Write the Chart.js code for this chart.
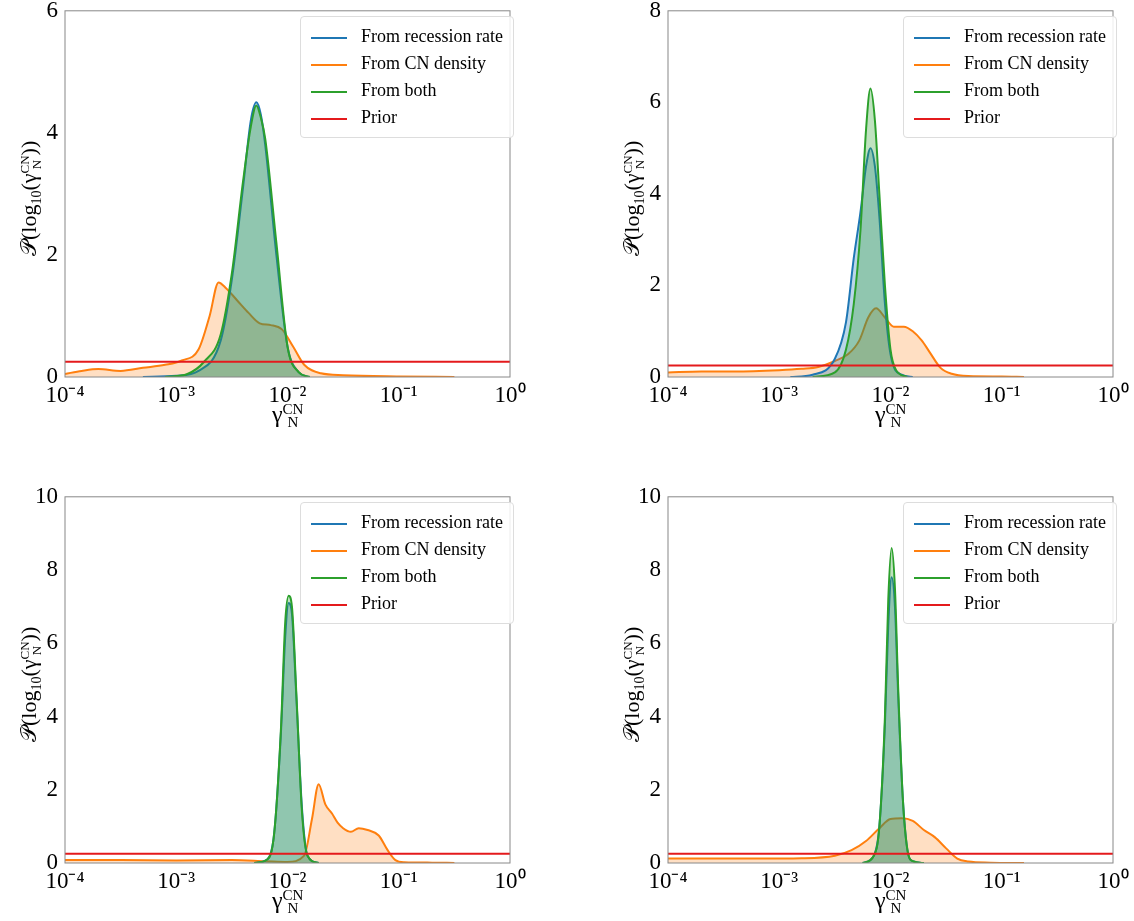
<!DOCTYPE html>
<html><head><meta charset="utf-8">
<script src="https://cdn.jsdelivr.net/npm/chart.js@4"></script>
<style>
body{margin:0;width:1134px;height:921px;background:#fff;position:relative;font-family:"Liberation Serif","DejaVu Serif",serif;overflow:hidden;}
.p{position:absolute;width:560px;height:445px;}
.p canvas{position:absolute;left:0;top:0;}
.xt{position:absolute;font-size:24px;color:#000;white-space:nowrap;}
.yt{position:absolute;font-size:22px;transform:rotate(-90deg);transform-origin:left top;white-space:nowrap;}
.lg{position:absolute;border:1px solid #ddd;border-radius:4px;background:rgba(255,255,255,0.85);padding:6px 10px;font-size:18px;}
.lg div{height:27px;line-height:27px;}
.lg span{display:inline-block;width:36px;height:0;border-top:2px solid;vertical-align:middle;margin-right:14px;}
</style></head><body>
<script>
const xTicks=[-4,-3,-2,-1,0];
const legendLabels=["From recession rate","From CN density","From both","Prior"];
const priorLevel=0.25;
const yMax=[6,8,10,10];
const p1RecX=[-3.3,-3.0,-2.8,-2.6,-2.5,-2.4,-2.33,-2.28,-2.24,-2.2,-2.1,-2.0,-1.9,-1.8];
const p1RecY=[0,0.02,0.1,0.6,1.6,3.1,4.2,4.5,4.3,3.8,2.0,0.5,0.08,0];
const p1BothX=[-3.1,-2.9,-2.75,-2.6,-2.5,-2.4,-2.33,-2.28,-2.24,-2.2,-2.1,-2.0,-1.9,-1.8];
const p1BothY=[0,0.05,0.25,0.7,1.7,3.2,4.1,4.45,4.25,3.9,2.2,0.5,0.08,0];
const p1CnX=[-4,-3.85,-3.7,-3.5,-3.3,-3.1,-2.95,-2.8,-2.7,-2.62,-2.55,-2.45,-2.35,-2.25,-2.15,-2.05,-1.95,-1.85,-1.7,-1.5,-1.0,-0.5];
const p1CnY=[0.05,0.1,0.13,0.1,0.15,0.2,0.27,0.45,1.0,1.55,1.45,1.25,1.05,0.88,0.85,0.78,0.5,0.2,0.06,0.03,0.01,0];
const p2RecX=[-2.9,-2.7,-2.5,-2.4,-2.33,-2.27,-2.22,-2.18,-2.14,-2.1,-2.05,-2.0,-1.9,-1.8];
const p2RecY=[0,0.05,0.4,1.2,2.6,3.6,4.6,5.0,4.6,3.5,1.6,0.5,0.05,0];
const p2BothX=[-2.7,-2.5,-2.4,-2.33,-2.27,-2.22,-2.18,-2.14,-2.1,-2.05,-2.0,-1.95,-1.85];
const p2BothY=[0,0.1,0.6,1.6,3.2,5.4,6.3,5.6,4.0,2.0,0.6,0.15,0];
const p2CnX=[-4,-3.7,-3.4,-3.0,-2.8,-2.65,-2.5,-2.38,-2.28,-2.2,-2.13,-2.05,-1.97,-1.88,-1.8,-1.72,-1.65,-1.55,-1.45,-1.3,-1.0,-0.8];
const p2CnY=[0.1,0.12,0.12,0.15,0.18,0.22,0.35,0.5,0.8,1.3,1.5,1.3,1.1,1.1,1.0,0.8,0.55,0.2,0.07,0.02,0.01,0];
const p3RecX=[-2.3,-2.18,-2.12,-2.06,-2.02,-1.99,-1.96,-1.92,-1.87,-1.82,-1.72];
const p3RecY=[0,0.1,0.8,3.5,6.2,7.1,6.8,4.5,1.5,0.2,0];
const p3BothX=[-2.3,-2.18,-2.12,-2.06,-2.02,-1.99,-1.96,-1.92,-1.87,-1.82,-1.72];
const p3BothY=[0,0.1,0.8,3.6,6.6,7.3,7.0,4.6,1.4,0.2,0];
const p3CnX=[-4,-3.5,-3.0,-2.5,-2.2,-2.0,-1.85,-1.78,-1.72,-1.66,-1.6,-1.55,-1.5,-1.43,-1.36,-1.28,-1.18,-1.1,-1.03,-0.95,-0.7,-0.5];
const p3CnY=[0.08,0.08,0.07,0.08,0.05,0.03,0.2,1.2,2.15,1.6,1.35,1.1,0.95,0.85,0.95,0.9,0.75,0.35,0.08,0.02,0.01,0];
const p4RecX=[-2.25,-2.15,-2.1,-2.05,-2.02,-1.99,-1.96,-1.93,-1.89,-1.85,-1.8,-1.7];
const p4RecY=[0,0.2,1.0,3.8,6.5,7.8,7.0,4.5,1.8,0.4,0.05,0];
const p4BothX=[-2.25,-2.15,-2.1,-2.05,-2.02,-1.99,-1.96,-1.93,-1.89,-1.85,-1.8,-1.7];
const p4BothY=[0,0.2,1.0,4.0,7.2,8.6,7.5,4.7,1.8,0.4,0.05,0];
const p4CnX=[-4,-3.6,-3.2,-2.8,-2.5,-2.35,-2.22,-2.1,-2.0,-1.9,-1.8,-1.7,-1.6,-1.5,-1.4,-1.3,-1.1,-0.8];
const p4CnY=[0.12,0.12,0.12,0.13,0.2,0.35,0.6,0.95,1.2,1.22,1.15,0.9,0.7,0.4,0.12,0.04,0.01,0];

const panels=[
 {left:0,top:0,rx:p1RecX,ry:p1RecY,bx:p1BothX,by:p1BothY,cx:p1CnX,cy:p1CnY},
 {left:603,top:0,rx:p2RecX,ry:p2RecY,bx:p2BothX,by:p2BothY,cx:p2CnX,cy:p2CnY},
 {left:0,top:486,rx:p3RecX,ry:p3RecY,bx:p3BothX,by:p3BothY,cx:p3CnX,cy:p3CnY},
 {left:603,top:486,rx:p4RecX,ry:p4RecY,bx:p4BothX,by:p4BothY,cx:p4CnX,cy:p4CnY}
];
const sup={"-":"⁻","0":"⁰","1":"¹","2":"²","3":"³","4":"⁴"};
function pts(xs,ys){return xs.map((v,i)=>({x:Math.pow(10,v),y:ys[i]}));}
const boxPlugin={id:'box',afterDraw(c){const a=c.chartArea,g=c.ctx;g.save();g.strokeStyle='#888';g.lineWidth=1;g.strokeRect(a.left,a.top,a.right-a.left,a.bottom-a.top);g.restore();}};
const colors=['#1f77b4','#ff7f0e','#2ca02c','#e41a1c'];
panels.forEach((p,k)=>{
 const d=document.createElement('div');d.className='p';d.style.left=p.left+'px';d.style.top=(p.top-5)+'px';
 const cv=document.createElement('canvas');cv.width=560;cv.height=445;cv.style.width='560px';cv.style.height='445px';d.appendChild(cv);
 document.body.appendChild(d);
 const ds=[
  {data:pts(p.cx,p.cy),borderColor:colors[1],backgroundColor:'rgba(255,127,14,0.25)',fill:'origin',order:3},
  {data:pts(p.rx,p.ry),borderColor:colors[0],backgroundColor:'rgba(31,119,180,0.3)',fill:'origin',order:2},
  {data:pts(p.bx,p.by),borderColor:colors[2],backgroundColor:'rgba(44,160,44,0.3)',fill:'origin',order:1},
  {data:[{x:1e-4,y:priorLevel},{x:1,y:priorLevel}],borderColor:colors[3],fill:false,order:0}
 ];
 ds.forEach(s=>{s.borderWidth=2;s.pointRadius=0;s.cubicInterpolationMode='monotone';});
 new Chart(cv,{type:'line',data:{datasets:ds},plugins:[boxPlugin],options:{
  responsive:false,animation:false,layout:{padding:{top:5,right:50}},
  plugins:{legend:{display:false},tooltip:{enabled:false}},
  scales:{
   x:{type:'logarithmic',min:1e-4,max:1,grid:{display:false,drawTicks:true,tickLength:5},border:{display:false},
     afterBuildTicks(s){s.ticks=xTicks.map(v=>({value:Math.pow(10,v)}));},
     afterFit(s){s.height=63;},
     ticks:{color:'#000',font:{family:'"Liberation Serif",serif',size:23},maxRotation:0,autoSkip:false,padding:0,
       callback:(v)=>{const e=Math.round(Math.log10(v));return '10'+String(e).split('').map(c=>sup[c]).join('');}}},
   y:{min:0,max:yMax[k],grid:{display:false,tickLength:5},border:{display:false},afterFit(s){s.width=65;},
     ticks:{stepSize:2,color:'#000',font:{family:'"Liberation Serif",serif',size:23},padding:2}}
  }}});
 const xt=document.createElement('div');xt.className='xt';xt.innerHTML='γ<span style="display:inline-block;vertical-align:middle;line-height:0.9;font-size:15px;text-align:center">CN<br>N</span>';
 xt.style.left=(p.left+272)+'px';xt.style.top=(p.top+401)+'px';document.body.appendChild(xt);
 const yt=document.createElement('div');yt.className='yt';yt.innerHTML='𝒫(log<sub style="font-size:14px">10</sub>(γ<span style="display:inline-block;vertical-align:middle;line-height:0.9;font-size:13px;text-align:center">CN<br>N</span>))';
 yt.style.left=(p.left+16)+'px';yt.style.top=(p.top+256)+'px';document.body.appendChild(yt);
 const lg=document.createElement('div');lg.className='lg';lg.style.left=(p.left+300)+'px';lg.style.top=(p.top+16)+'px';
 lg.innerHTML=legendLabels.map((t,i)=>`<div><span style="border-color:${colors[i]}"></span>${t}</div>`).join('');
 document.body.appendChild(lg);
});
</script>
</body></html>
